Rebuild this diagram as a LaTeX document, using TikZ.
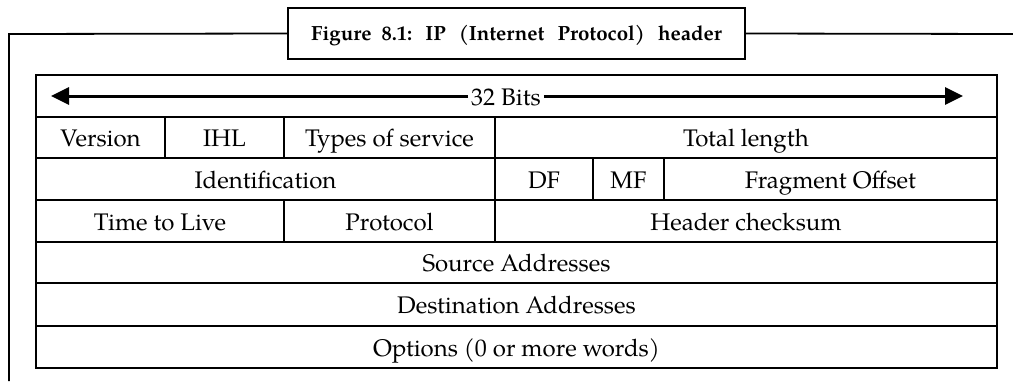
\documentclass[tikz,border=0pt]{standalone}
\usepackage{fontspec}
\setmainfont{TeX Gyre Pagella}
\usetikzlibrary{arrows.meta}
\tikzset{
  txt/.style={font=\fontsize{24}{28}\selectfont, text height=18pt, text depth=0pt},
  cell/.style={txt, draw, line width=2pt, rectangle, inner sep=0pt},
  arr/.style={line width=3pt, -{Triangle[length=18pt,width=17pt]}},
  frame/.style={line width=1.8pt},
}
\begin{document}
\begin{tikzpicture}[x=1pt,y=-1pt]
\useasboundingbox (0,0) rectangle (1013,381);
% title and frame
\node[draw, line width=2pt, minimum width=457pt, minimum height=51pt, inner sep=0pt,
      font=\fontsize{20.5}{24}\selectfont\bfseries, text height=14pt, text depth=0pt] (title) at (516.5,33.5)
      {Figure\hspace{10pt}8.1:\hspace{13pt}IP\hspace{13pt}(Internet\hspace{13pt}Protocol)\hspace{13pt}header};
\coordinate (fc) at (9,34);
\coordinate (fb) at (9,381);
\coordinate (fr) at (1013,34);
\draw[frame] (title.west) -- (fc) -- (fb);
\draw[frame] (title.east) -- (fr);
% row 0
\node[cell, minimum width=961pt, minimum height=42pt] (r0) at (516.5,96) {};
\node[txt, inner sep=3pt] (bits) at (506,96) {32 Bits};
\coordinate (al) at (51,96);
\coordinate (ar) at (963,96);
\draw[arr] (bits.west) -- (al);
\draw[arr] (bits.east) -- (ar);
% row 1
\node[cell, minimum width=129pt, minimum height=41pt] (ver) at (100.5,137.5) {Version};
\node[cell, minimum width=119pt, minimum height=41pt] (ihl) at (224.5,137.5) {IHL};
\node[cell, minimum width=211pt, minimum height=41pt] (tos) at (389.5,137.5) {Types of service};
\node[cell, minimum width=502pt, minimum height=41pt] (tl) at (746,137.5) {Total length};
% row 2
\node[cell, minimum width=459pt, minimum height=42pt] (id) at (265.5,179) {Identification};
\node[cell, minimum width=98pt, minimum height=42pt] (df) at (544,179) {DF};
\node[cell, minimum width=71pt, minimum height=42pt] (mf) at (628.5,179) {MF};
\node[cell, minimum width=333pt, minimum height=42pt] (fo) at (830.5,179) {Fragment Offset};
% row 3
\node[cell, minimum width=248pt, minimum height=42pt] (ttl) at (160,221) {Time to Live};
\node[cell, minimum width=211pt, minimum height=42pt] (pr) at (389.5,221) {Protocol};
\node[cell, minimum width=502pt, minimum height=42pt] (hc) at (746,221) {Header checksum};
% rows 4-6
\node[cell, minimum width=961pt, minimum height=41pt] (sa) at (516.5,262.5) {Source Addresses};
\node[cell, minimum width=961pt, minimum height=43pt] (da) at (516.5,304.5) {Destination Addresses};
\node[cell, minimum width=961pt, minimum height=42pt] (op) at (516.5,347) {Options (0 or more words)};
\end{tikzpicture}
\end{document}
